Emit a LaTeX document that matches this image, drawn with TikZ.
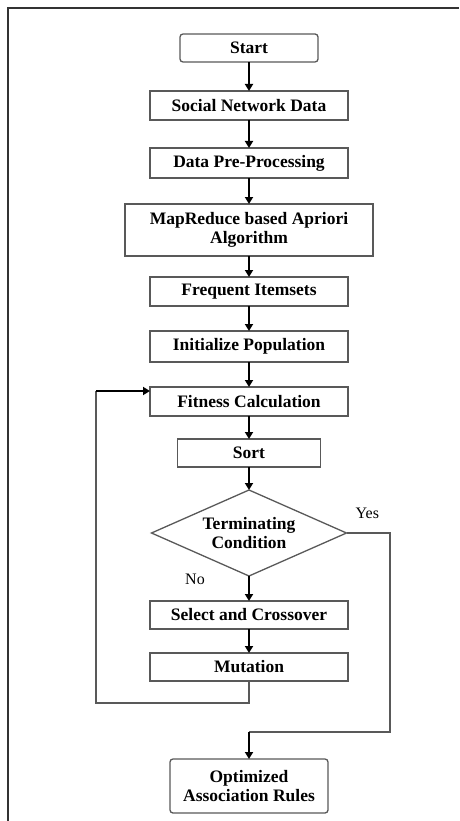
\documentclass[tikz,border=0pt]{standalone}
\usepackage{fontspec}
\setmainfont{Liberation Serif}
\usetikzlibrary{arrows.meta,positioning,shapes.geometric}
\tikzset{
  block/.style={draw=black!65, line width=1.3pt, align=center, fill=white,
    minimum width=198pt, minimum height=29pt, inner sep=2pt, outer sep=0pt,
    font=\fontsize{17.5}{19}\selectfont\bfseries},
  termblock/.style={block, rounded corners=3pt},
  decision/.style={block, diamond, aspect=2.27, minimum width=195pt,
    minimum height=86pt, inner sep=0pt},
  arr/.style={-{Triangle[length=7pt,width=8pt]}, line width=2pt, black},
  loopline/.style={draw=black!65, line width=1.3pt},
  lbl/.style={font=\fontsize{16}{18}\selectfont, inner sep=0pt},
  frameline/.style={draw=black!80, line width=2pt}
}
\begin{document}
\begin{tikzpicture}[x=1pt, y=-1pt, node distance=25pt]
  \useasboundingbox (0,0) rectangle (459,821);
  \draw[frameline] (8,821) |- (459,8);

  \node[termblock, minimum width=138pt, minimum height=28pt] (start) at (249,48) {Start};
  \node[block, below=29pt of start] (snd) {Social Network Data};
  \node[block, below=28pt of snd, minimum height=30pt] (prep) {Data Pre-Processing};
  \node[block, below=26pt of prep, minimum width=248pt, minimum height=52pt] (apriori) {MapReduce based Apriori\\Algorithm};
  \node[block, below=21pt of apriori] (freq) {Frequent Itemsets};
  \node[block, below=25pt of freq, minimum height=31pt] (init) {Initialize Population};
  \node[block, below=25pt of init] (fit) {Fitness Calculation};
  \node[block, below=23pt of fit, minimum width=143pt, minimum height=28pt] (sort) {Sort};
  \node[decision, below=23pt of sort] (term) {Terminating\\Condition};
  \node[block, below=25pt of term, minimum height=28pt] (cross) {Select and Crossover};
  \node[block, below=24pt of cross, minimum height=28pt] (mut) {Mutation};
  \node[termblock, below=78pt of mut, minimum width=158pt, minimum height=54pt] (opt) {Optimized\\Association Rules};

  \draw[arr] (start.south) -- (snd.north);
  \draw[arr] (snd.south) -- (prep.north);
  \draw[arr] (prep.south) -- (apriori.north);
  \draw[arr] (apriori.south) -- (freq.north);
  \draw[arr] (freq.south) -- (init.north);
  \draw[arr] (init.south) -- (fit.north);
  \draw[arr] (fit.south) -- (sort.north);
  \draw[arr] (sort.south) -- (term.north);
  \draw[arr] (term.south) -- (cross.north);
  \draw[arr] (cross.south) -- (mut.north);

  \coordinate (loopcorner) at (96,703);
  \coordinate (fitin) at ([yshift=-4pt]fit.north west);
  \draw[loopline] (mut.south) |- (loopcorner) -- (loopcorner |- fitin);
  \draw[arr] (loopcorner |- fitin) -- (fitin);

  \coordinate (yescorner) at (390,732);
  \draw[loopline] (term.east) -| (yescorner) -- (yescorner -| opt.north);
  \draw[arr] (yescorner -| opt.north) -- (opt.north);

  \node[lbl, above right=14pt and 9pt of term.east] (yes) {Yes};
  \node[lbl, left=44pt of term.south, yshift=-3pt] (no) {No};
\end{tikzpicture}
\end{document}
